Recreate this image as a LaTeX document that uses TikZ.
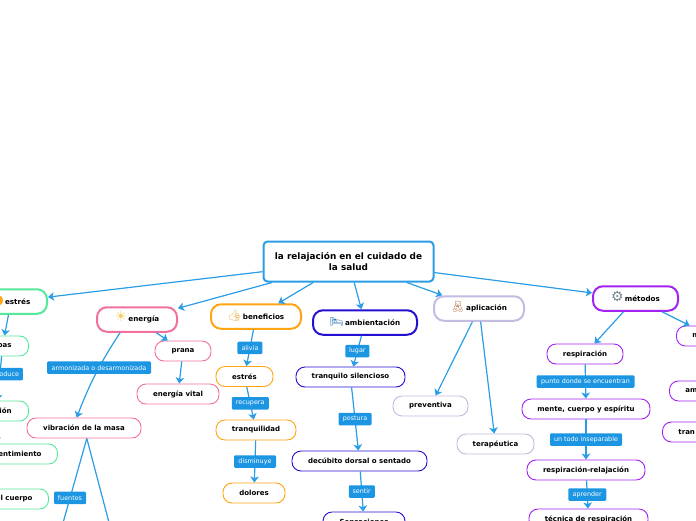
\documentclass[tikz,border=0pt]{standalone}
\usepackage{fontspec}
\setmainfont{DejaVu Sans}
\newfontfamily\emojifont{Noto Emoji}
\usetikzlibrary{arrows.meta, shapes}
\definecolor{linkblue}{HTML}{2A9DE6}
\definecolor{labelblue}{HTML}{1C95E2}
\definecolor{rootblue}{HTML}{2A9DE6}
\definecolor{estresgreen}{HTML}{55E89A}
\definecolor{energiapink}{HTML}{F2709F}
\definecolor{benefoorange}{HTML}{FFA412}
\definecolor{ambientblue}{HTML}{2410D2}
\definecolor{aplicagray}{HTML}{C3BBE2}
\definecolor{metodopurple}{HTML}{A322F2}
\definecolor{sunyellow}{HTML}{F6CF62}
\definecolor{thumbyellow}{HTML}{EDB44E}
\definecolor{bedblue}{HTML}{2C6FB0}
\definecolor{bearbrown}{HTML}{B5734A}
\definecolor{geargray}{HTML}{76868E}
\tikzstyle{root} = [rectangle, rounded corners=4pt, draw=rootblue, line width=2pt, fill=white, minimum width=168pt, minimum height=40pt, align=center, font=\fontsize{8.9}{11.4}\selectfont\bfseries]
\tikzstyle{topic} = [rectangle, rounded corners=10pt, line width=2pt, fill=white, minimum height=24.5pt, inner sep=0pt, align=center, font=\fontsize{7.2}{9}\selectfont\bfseries]
\tikzstyle{subtopic} = [rectangle, rounded corners=9pt, line width=0.9pt, fill=white, minimum height=20pt, inner sep=0pt, align=center, font=\fontsize{7}{9}\selectfont\bfseries]
\tikzstyle{cutright} = [subtopic, anchor=east, align=right]
\tikzstyle{cutleft} = [subtopic, anchor=west, align=left]
\tikzstyle{tag} = [rectangle, rounded corners=1.2pt, fill=labelblue, text=white, inner sep=0pt, minimum height=12.5pt, font=\fontsize{6.4}{8}\selectfont]
\tikzstyle{arrow} = [line width=1.2pt, draw=linkblue, -{Stealth[length=6pt, width=8.5pt, inset=1.5pt]}]
\newcommand{\icon}[2]{\smash{\emojifont\fontsize{11}{11}\selectfont\color{#1}#2}\,}
\newcommand{\solidicon}[2]{\smash{\fontsize{14}{14}\selectfont\color{#1}#2}\,}

\begin{document}
\begin{tikzpicture}[x=1pt, y=-1pt]
\useasboundingbox (0, 0) rectangle (696, 520);
\clip (0, 0) rectangle (696, 520);

\node at (348.5, 261.5) (root) [root, minimum width=170pt] {la relajación en el cuidado de\\la salud};

\node at (11, 301.5) (estres) [topic, draw=estresgreen, minimum width=72pt] {\solidicon{benefoorange}{●}estrés};
\node at (137, 319.5) (energia) [topic, draw=energiapink, minimum width=80pt] {\solidicon{sunyellow}{☀}energía};
\node at (256, 316.5) (beneficios) [topic, draw=benefoorange, minimum width=90pt] {\icon{thumbyellow}{👍}beneficios};
\node at (365, 322.5) (ambientacion) [topic, draw=ambientblue, minimum width=104pt] {\icon{bedblue}{🛌}ambientación};
\node at (479, 308.5) (aplicacion) [topic, draw=aplicagray, minimum width=90pt] {\icon{bearbrown}{🧸}aplicación};
\node at (635.5, 298.5) (metodos) [topic, draw=metodopurple, minimum width=85pt] {\solidicon{geargray}{⚙}métodos};

% estres
\node at (29, 346) (pas) [cutright, draw=estresgreen, inner xsep=17pt, text width=18pt] {pas};
\node at (29, 411) (ion) [cutright, draw=estresgreen, inner xsep=17pt, text width=30pt] {ión};
\node at (58, 454) (sentimiento) [cutright, draw=estresgreen, inner xsep=16pt, text width=90pt] {entimiento};
\node at (49, 499) (cuerpo) [cutright, draw=estresgreen, inner xsep=16pt, text width=80pt] {el cuerpo};

% energia
\node at (183, 351) (prana) [subtopic, draw=energiapink, minimum width=56pt] {prana};
\node at (178, 394) (vital) [subtopic, draw=energiapink, minimum width=82pt] {energía vital};
\node at (84, 428) (vibracion) [subtopic, draw=energiapink, minimum width=114pt] {vibración de la masa};
\coordinate (fuentesend) at (61, 530);
\coordinate (masaend) at (111, 530);

% beneficios
\node at (244.5, 376.5) (estres2) [subtopic, draw=benefoorange, minimum width=57pt] {estrés};
\node at (256, 430) (tranquilidad) [subtopic, draw=benefoorange, minimum width=80pt] {tranquilidad};
\node at (254, 493) (dolores) [subtopic, draw=benefoorange, minimum width=62pt] {dolores};

% ambientacion
\node at (350.5, 377) (silencioso) [subtopic, draw=ambientblue, minimum width=109pt] {tranquilo silencioso};
\node at (359.5, 461) (decubito) [subtopic, draw=ambientblue, minimum width=135pt] {decúbito dorsal o sentado};
\node at (364, 522) (sensacion) [subtopic, draw=ambientblue, minimum width=82pt] {Sensaciones};

% aplicacion
\node at (430.5, 406) (preventiva) [subtopic, draw=aplicagray, minimum width=75pt] {preventiva};
\node at (495.5, 444) (terapeutica) [subtopic, draw=aplicagray, minimum width=77pt] {terapéutica};

% metodos
\node at (585, 354) (respiracion) [subtopic, draw=metodopurple, minimum width=76pt] {respiración};
\node at (586, 409) (mente) [subtopic, draw=metodopurple, minimum width=128pt] {mente, cuerpo y espíritu};
\node at (586, 470) (relajacion) [subtopic, draw=metodopurple, minimum width=118pt] {respiración-relajación};
\node at (588.5, 519) (tecnica) [subtopic, draw=metodopurple, minimum width=119pt] {técnica de respiración};
\node at (676, 336) (metodoM) [cutleft, draw=metodopurple, inner xsep=16pt, text width=36pt] {m};
\node at (669, 391) (metodoAm) [cutleft, draw=metodopurple, inner xsep=16pt, text width=60pt] {am};
\node at (662, 432) (metodoTran) [cutleft, draw=metodopurple, inner xsep=16pt, text width=60pt] {tran};

\draw [arrow] (root) -- (estres);
\draw [arrow] (root) -- (energia);
\draw [arrow] (root) -- (beneficios);
\draw [arrow] (root) -- (ambientacion);
\draw [arrow] (root) -- (aplicacion);
\draw [arrow] (root) -- (metodos);

\draw [arrow] (estres) -- (pas);
\draw [arrow] (pas) -- (ion) node (produce) [tag, pos=0.4, text width=38pt, align=right, inner xsep=4pt] {oduce};
\draw [arrow] (ion) -- (sentimiento);

\draw [arrow] (energia) -- (prana);
\draw [arrow] (prana) -- (vital);
\draw [arrow] (energia.-142) to [bend right=6] node (armonizada) [tag, pos=0.42, minimum width=104pt] {armonizada o desarmonizada} (vibracion.125);
\draw [arrow] (vibracion.-75) -- (fuentesend) node (fuentes) [tag, pos=0.65, minimum width=32pt] {fuentes};
\draw [arrow] (vibracion.-75) -- (masaend);

\draw [arrow] (beneficios) -- (estres2) node (alivia) [tag, midway, minimum width=25pt] {alivia};
\draw [arrow] (estres2) -- (tranquilidad) node (recupera) [tag, midway, minimum width=37pt] {recupera};
\draw [arrow] (tranquilidad) -- (dolores) node (disminuye) [tag, midway, minimum width=42pt] {disminuye};

\draw [arrow] (ambientacion) -- (silencioso) node (lugar) [tag, midway, minimum width=24pt] {lugar};
\draw [arrow] (silencioso) -- (decubito) node (postura) [tag, midway, minimum width=33pt] {postura};
\draw [arrow] (decubito) -- (sensacion) node (sentir) [tag, midway, minimum width=26pt] {sentir};

\draw [arrow] (aplicacion) -- (preventiva);
\draw [arrow] (aplicacion) -- (terapeutica);

\draw [arrow] (metodos) -- (respiracion);
\draw [arrow] (metodos) -- (metodoM);
\draw [arrow] (respiracion) -- (mente) node (punto) [tag, midway, minimum width=98pt] {punto donde se encuentran};
\draw [arrow] (mente) -- (relajacion) node (todo) [tag, midway, minimum width=72pt] {un todo inseparable};
\draw [arrow] (relajacion) -- (tecnica) node (aprender) [tag, midway, minimum width=38pt] {aprender};

\end{tikzpicture}
\end{document}
